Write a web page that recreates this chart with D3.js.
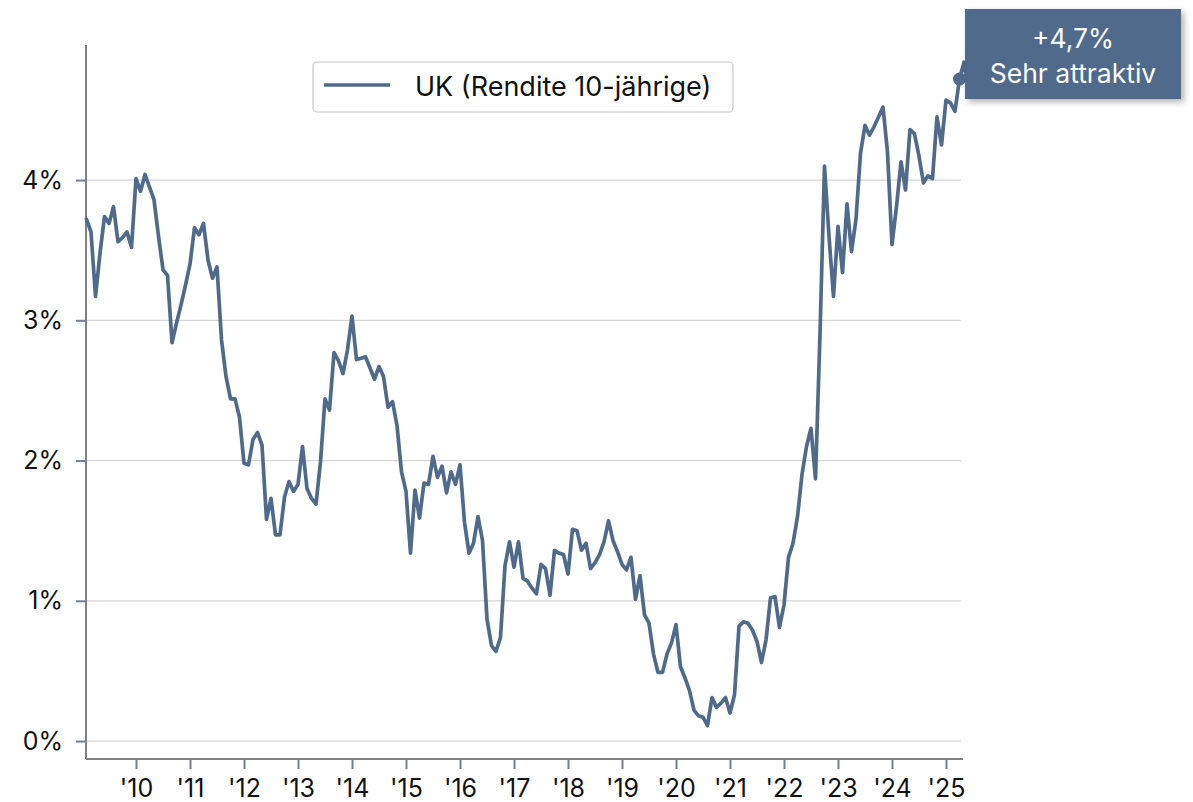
<!DOCTYPE html>
<html><head><meta charset="utf-8">
<script src="https://cdn.jsdelivr.net/npm/d3@7"></script>
<style>
html,body{margin:0;padding:0;background:#fff;}
svg{display:block;font-family:Inter,'Noto Sans',sans-serif;}
</style>
</head><body>
<svg id="chart" width="1193" height="802"></svg>
<script>
// ---- data (month-end values, first = Jan 2009) ----
const startYear = 2009;
const yields = [
 3.72,3.63,3.17,3.48,3.74,3.69,3.81,3.56,3.59,3.63,
 3.52,4.01,3.92,4.04,3.95,3.86,3.60,3.36,3.32,2.84,
 2.98,3.11,3.25,3.40,3.66,3.61,3.69,3.43,3.30,3.38,
 2.86,2.60,2.44,2.44,2.31,1.98,1.97,2.15,2.20,2.11,
 1.58,1.73,1.47,1.47,1.74,1.85,1.78,1.83,2.10,1.80,
 1.73,1.69,1.99,2.44,2.36,2.77,2.71,2.62,2.79,3.03,
 2.72,2.73,2.74,2.66,2.58,2.67,2.60,2.38,2.42,2.25,
 1.92,1.78,1.34,1.79,1.59,1.84,1.83,2.03,1.88,1.96,
 1.77,1.92,1.83,1.97,1.56,1.34,1.41,1.60,1.43,0.87,
 0.68,0.64,0.74,1.25,1.42,1.24,1.42,1.16,1.14,1.09,
 1.05,1.26,1.23,1.04,1.36,1.34,1.33,1.19,1.51,1.50,
 1.36,1.41,1.23,1.27,1.33,1.42,1.57,1.43,1.35,1.26,
 1.22,1.31,1.01,1.18,0.90,0.84,0.62,0.49,0.49,0.62,
 0.70,0.83,0.53,0.45,0.36,0.22,0.18,0.17,0.11,0.31,
 0.24,0.27,0.31,0.20,0.33,0.82,0.85,0.84,0.79,0.71,
 0.56,0.72,1.02,1.03,0.81,0.97,1.31,1.41,1.60,1.90,
 2.10,2.23,1.87,2.90,4.10,3.60,3.17,3.67,3.34,3.83,
 3.49,3.72,4.19,4.39,4.32,4.38,4.45,4.52,4.20,3.54,
 3.81,4.13,3.93,4.36,4.33,4.17,3.98,4.03,4.01,4.45,
 4.25,4.57,4.55,4.49,4.72,4.84,4.62
];
const highlightIndex = 194;
const yTicks = [0,1,2,3,4];
const yTickLabels = ["0%","1%","2%","3%","4%"];
const xTicks = [2010,2011,2012,2013,2014,2015,2016,2017,2018,2019,2020,2021,2022,2023,2024,2025];
const xTickLabels = ["'10","'11","'12","'13","'14","'15","'16","'17","'18","'19","'20","'21","'22","'23","'24","'25"];
const seriesName = "UK (Rendite 10-jährige)";
const calloutLines = ["+4,7%","Sehr attraktiv"];

// ---- layout ----
const color = "#4f6a8b";
const boxColor = "#506b8b";
const fontFam = "Inter,'Noto Sans',sans-serif";
const svg = d3.select("#chart");
const dates = yields.map((v,i)=> startYear + (i+1)/12);
const data = yields.map((v,i)=>({t:dates[i], v}));

const x = d3.scaleLinear().domain([2009.074, 2025.315]).range([86, 963]);
const y = d3.scaleLinear().domain([-0.128, 4.963]).range([759, 45]);

const defs = svg.append("defs");
const f = defs.append("filter").attr("id","shadow").attr("x","-20%").attr("y","-20%").attr("width","150%").attr("height","160%");
f.append("feDropShadow").attr("dx",3).attr("dy",3).attr("stdDeviation",3).attr("flood-color","#000").attr("flood-opacity",0.3);

// gridlines
svg.append("g").selectAll("line").data(yTicks).join("line")
  .attr("x1",86).attr("x2",961)
  .attr("y1",d=>y(d)).attr("y2",d=>y(d))
  .attr("stroke","#d6d6d6").attr("stroke-width",1.3);

// y axis
const yAxis = svg.append("g").attr("transform","translate(86,0)")
  .call(d3.axisLeft(y).tickValues(yTicks).tickFormat((d,i)=>yTickLabels[i]).tickSize(10).tickPadding(13));
yAxis.select(".domain").remove();
yAxis.selectAll(".tick line").attr("stroke","#6f8197").attr("stroke-width",2);
yAxis.selectAll("text").attr("font-size",25).attr("fill","#111").attr("font-family",fontFam);

// x axis
const xAxis = svg.append("g").attr("transform","translate(0,759)")
  .call(d3.axisBottom(x).tickValues(xTicks).tickFormat((d,i)=>xTickLabels[i]).tickSize(10).tickPadding(10));
xAxis.select(".domain").remove();
xAxis.selectAll(".tick line").attr("stroke","#6f8197").attr("stroke-width",2);
xAxis.selectAll("text").attr("font-size",25).attr("fill","#111").attr("font-family",fontFam);

// axis lines
svg.append("line").attr("x1",86).attr("x2",86).attr("y1",45).attr("y2",759).attr("stroke","#808080").attr("stroke-width",2);
svg.append("line").attr("x1",86).attr("x2",963).attr("y1",759).attr("y2",759).attr("stroke","#808080").attr("stroke-width",2);

// series line
svg.append("path").datum(data)
  .attr("fill","none").attr("stroke",color).attr("stroke-width",3.7)
  .attr("stroke-linejoin","round").attr("stroke-linecap","round")
  .attr("d", d3.line().x(d=>x(d.t)).y(d=>y(d.v)));

// highlight dot
const hp = data[highlightIndex];
svg.append("circle").attr("cx",x(hp.t)).attr("cy",y(hp.v)).attr("r",6.5).attr("fill",color);

// callout
const bx = x(hp.t) + 5.5, by = 9, bw = 216, bh = 90;
svg.append("rect").attr("x",bx).attr("y",by).attr("width",bw).attr("height",bh)
  .attr("fill",boxColor).attr("filter","url(#shadow)");
svg.append("g").selectAll("text").data(calloutLines).join("text")
  .attr("x",bx+bw/2).attr("y",(d,i)=>by+39+i*35)
  .attr("text-anchor","middle").attr("fill","#fff").attr("font-size",26.5)
  .text(d=>d);

// legend
const lg = svg.append("g");
lg.append("rect").attr("x",313).attr("y",62).attr("width",420).attr("height",50).attr("rx",4)
  .attr("fill","#fff").attr("stroke","#c8c8c8").attr("stroke-width",1.2);
lg.append("line").attr("x1",324).attr("x2",390).attr("y1",85).attr("y2",85)
  .attr("stroke",color).attr("stroke-width",3.7);
lg.append("text").attr("x",415).attr("y",96).attr("font-size",27).attr("fill","#111").text(seriesName);
</script>
</body></html>
